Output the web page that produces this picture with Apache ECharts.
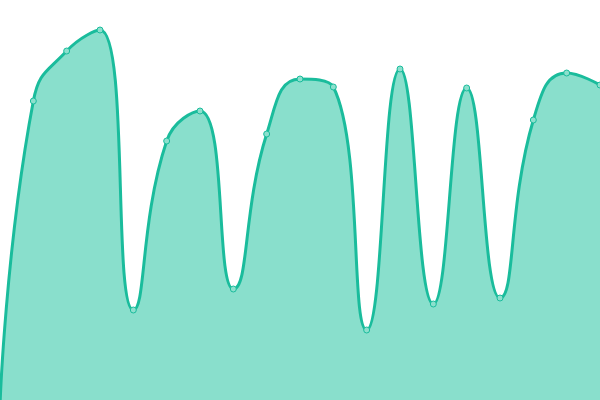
<!DOCTYPE html>
<html><head><meta charset="utf-8">
<script src="https://cdn.jsdelivr.net/npm/echarts@6/dist/echarts.min.js"></script>
<style>html,body{margin:0;padding:0;background:#fff}#c{width:600px;height:400px}</style>
</head><body><div id="c"></div>
<script>
var categories = ['1','2','3','4','5','6','7','8','9','10','11','12','13','14','15','16','17','18','19'];
var values = [-6, 299, 349, 370, 90, 259, 289, 111, 266, 321, 313, 70, 331, 96, 312, 102, 280, 327, 315];
var chart = echarts.init(document.getElementById('c'));
chart.setOption({
  animation: false,
  grid: {left: 0, right: 0, top: 0, bottom: 0},
  xAxis: {type: 'category', data: categories, boundaryGap: false, show: false},
  yAxis: {type: 'value', min: 0, max: 400, show: false},
  series: [{
    type: 'line',
    data: values,
    smooth: true,
    clip: true,
    symbol: 'circle',
    symbolSize: 6,
    lineStyle: {color: '#1abc9c', width: 3},
    itemStyle: {color: '#8ce0cd', borderColor: '#1abc9c', borderWidth: 1},
    areaStyle: {color: '#89dfcc', opacity: 1}
  }]
});
</script></body></html>
